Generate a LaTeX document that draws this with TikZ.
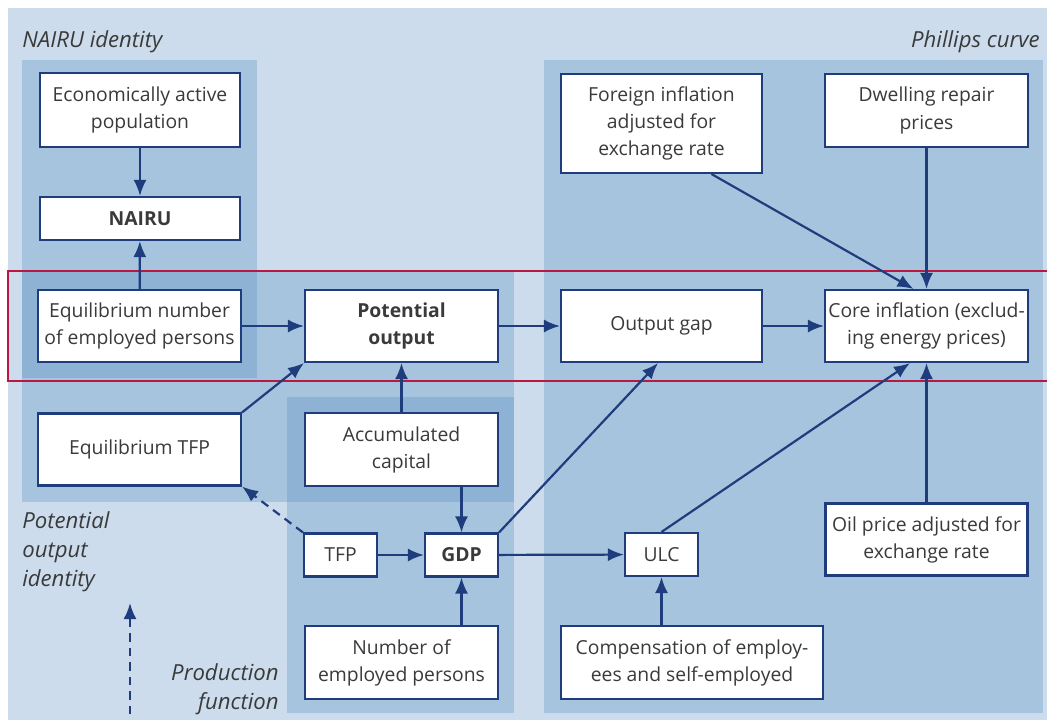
\documentclass[tikz,border=0pt]{standalone}
\usepackage{fontspec}
\setmainfont{Open Sans}
\usepackage{tikz}
\usetikzlibrary{arrows.meta}

\definecolor{bglight}{HTML}{CCDCEC}
\definecolor{bgmid}{HTML}{A7C4DE}
\definecolor{bgdark}{HTML}{8DB2D4}
\definecolor{navy}{HTML}{1F3D7D}
\definecolor{frame}{HTML}{BA1842}
\definecolor{txt}{HTML}{3A3A3A}

\tikzset{
  box/.style={draw=navy, fill=white, line width=1.2pt, align=center, inner sep=0pt,
    text=txt, font=\fontsize{11}{15.4}\selectfont},
  arr/.style={navy, line width=1.25pt, -{Latex[length=3.2mm,width=2.6mm]}},
  dasharr/.style={arr, dash pattern=on 0.17cm off 0.12cm},
  region/.style={text=txt, font=\fontsize{12.6}{16.5}\selectfont\itshape, inner sep=0pt}
}

\begin{document}
\begin{tikzpicture}[x=0.02cm, y=-0.02cm]
    \useasboundingbox (0,0) rectangle (1047,720);
    \fill[white] (0,0) rectangle (1047,720);
    \fill[bglight] (8,8) rectangle (1047,720);
    \fill[bgmid] (22,60) rectangle (257,378);
    \fill[bgmid] (22,271) rectangle (514,502);
    \fill[bgmid] (287,397) rectangle (514,713);
    \fill[bgmid] (544,60) rectangle (1043,713);
    \fill[bgdark] (22,271) rectangle (257,378);
    \fill[bgdark] (287,397) rectangle (514,502);
    \draw[frame, line width=1.2pt] (8,271) rectangle (1052,381);

    \node[region, anchor=west] (lnairu) at (22,42) {NAIRU identity};
    \node[region, anchor=east] (lphil) at (1040,42) {Phillips curve};
    \node[region, anchor=north west, align=left] (lpot) at (22,511) {Potential\\output\\identity};
    \node[region, anchor=north east, align=right] (lprod) at (279,663) {Production\\function};

    \node[box, minimum width=4cm, minimum height=1.48cm] (eap) at (140,110) {Economically active\\population};
    \node[box, minimum width=4cm, minimum height=0.86cm] (nairu) at (140,218.5) {\bfseries NAIRU};
    \node[box, minimum width=4.06cm, minimum height=1.44cm] (eqemp) at (139.5,326) {Equilibrium number\\of employed persons};
    \node[box, minimum width=3.86cm, minimum height=1.44cm] (potout) at (401.5,326) {\bfseries Potential\\\bfseries output};
    \node[box, minimum width=4.02cm, minimum height=1.44cm] (gap) at (661.5,326) {Output gap};
    \node[box, minimum width=4.06cm, minimum height=1.44cm] (core) at (926.5,326) {Core inflation (exclud-\\ing energy prices)};
    \node[box, minimum width=4.02cm, minimum height=1.98cm] (foreign) at (661.5,123.5) {Foreign inflation\\adjusted for\\exchange rate};
    \node[box, minimum width=4.06cm, minimum height=1.46cm] (dwell) at (926.5,110.5) {Dwelling repair\\prices};
    \node[box, minimum width=4.06cm, minimum height=1.44cm] (eqtfp) at (139.5,449.5) {Equilibrium TFP};
    \node[box, minimum width=3.86cm, minimum height=1.46cm] (capital) at (401.5,449.5) {Accumulated\\capital};
    \node[box, minimum width=1.46cm, minimum height=0.86cm] (tfp) at (340.5,555) {TFP};
    \node[box, minimum width=1.46cm, minimum height=0.86cm] (gdp) at (461.5,555) {\bfseries GDP};
    \node[box, minimum width=1.46cm, minimum height=0.86cm] (ulc) at (661.5,554.5) {ULC};
    \node[box, minimum width=4.04cm, minimum height=1.44cm] (oil) at (926.5,539.5) {Oil price adjusted for\\exchange rate};
    \node[box, minimum width=3.86cm, minimum height=1.46cm] (nemp) at (401.5,662.5) {Number of\\employed persons};
    \node[box, minimum width=5.24cm, minimum height=1.46cm] (comp) at (692,662.5) {Compensation of employ-\\ees and self-employed};

    \coordinate (dstart) at (130,714);
    \coordinate (dend) at (130,603);

    \draw[arr] (eap) -- (nairu);
    \draw[arr] (eqemp) -- (nairu);
    \draw[arr] (eqemp) -- (potout);
    \draw[arr] (eqtfp.north east) -- (potout.south west);
    \draw[arr] (capital) -- (potout);
    \draw[arr] (potout) -- (gap);
    \draw[arr] (gap) -- (core);
    \draw[arr] ([xshift=1cm]foreign.south) -- ([xshift=-0.26cm]core.north);
    \draw[arr] (dwell) -- (core);
    \draw[arr] (oil) -- (core);
    \draw[arr] (capital.south -| gdp) -- (gdp.north);
    \draw[arr] (tfp) -- (gdp);
    \draw[arr] (nemp.north -| gdp) -- (gdp.south);
    \draw[arr] (gdp.north east) -- ([xshift=-0.07cm]gap.south);
    \draw[arr] (gdp) -- (ulc);
    \draw[arr] (ulc.north) -- ([xshift=-0.33cm]core.south);
    \draw[arr] (comp.north -| ulc) -- (ulc.south);
    \draw[dasharr] (tfp.north west) -- (eqtfp.south east);
    \draw[dasharr] (dstart) -- (dend);
  \end{tikzpicture}
\end{document}
